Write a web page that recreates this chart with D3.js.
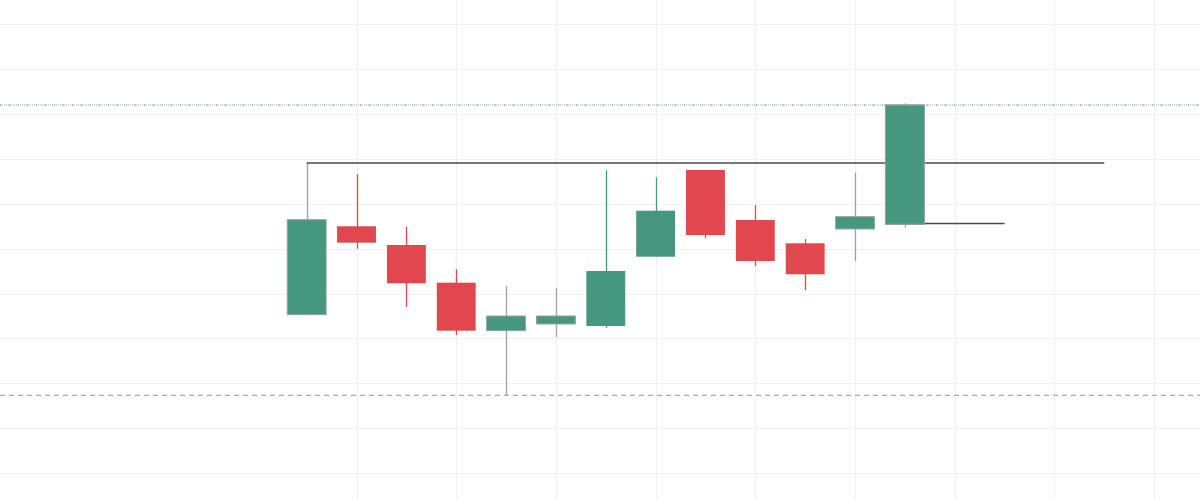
<!DOCTYPE html>
<html>
<head>
<meta charset="utf-8">
<script src="https://cdn.jsdelivr.net/npm/d3@7/dist/d3.min.js"></script>
<style>
html,body{margin:0;padding:0;background:#fff;overflow:hidden;}
svg{display:block;}
</style>
</head>
<body>
<svg id="chart" width="1200" height="499"></svg>
<script>
// ---- data ----
const bars = [0,1,2,3,4,5,6,7,8,9,10,11,12];
const opens  = [115.30,134.99,130.82,122.43,111.74,113.23,112.78,128.22,147.53,136.39,131.20,134.39,135.45];
const highs  = [149.09,146.57,134.90,125.41,121.69,121.25,147.46,145.90,147.53,139.73,132.16,146.93,162.38];
const lows   = [115.20,130.00,117.02,110.78,97.35,110.33,112.33,128.20,132.32,126.15,120.73,127.26,134.68];
const closes = [136.46,131.34,122.29,111.74,115.01,115.01,125.03,138.46,133.05,127.26,124.30,137.13,162.00];
const marked = [1,0,0,0,1,1,0,0,0,0,0,1,1];
const priceTicks = [80,90,100,110,120,130,140,150,160,170,180];
const timeTicks = [1,3,5,7,9,11,13,15,17];
const resistance = {price:149.09, from:0, to:16};
const support = {price:135.6, from:12, to:14};
const lastPrice = 162.00;
const lowPrice = 97.35;

// ---- scales ----
const W = 1200, H = 499;
const x = d3.scaleLinear().domain([-6.152, 17.92]).range([0, W]);
const y = d3.scaleLinear().domain([74.25, 185.39]).range([H, 0]);
const step = x(1) - x(0);
const bw = step * 0.78;

const svg = d3.select('#chart');
const GREEN = '#45977f', RED = '#e0484e', GREY = '#a0a0a0';

// grid
svg.append('g').selectAll('line').data(priceTicks).join('line')
  .attr('x1', 0).attr('x2', W)
  .attr('y1', d => Math.round(y(d)) + 0.5).attr('y2', d => Math.round(y(d)) + 0.5)
  .attr('stroke', '#f0f0f0').attr('stroke-width', 1);
svg.append('g').selectAll('line').data(timeTicks).join('line')
  .attr('y1', 0).attr('y2', H)
  .attr('x1', d => Math.round(x(d)) + 0.5).attr('x2', d => Math.round(x(d)) + 0.5)
  .attr('stroke', '#f0f0f0').attr('stroke-width', 1);

// low price dashed line
svg.append('line')
  .attr('x1', 0).attr('x2', W)
  .attr('y1', y(lowPrice)).attr('y2', y(lowPrice))
  .attr('stroke', '#aaaaaa').attr('stroke-width', 1.2)
  .attr('stroke-dasharray', '5,4');

// last price dotted line
svg.append('line')
  .attr('x1', 0).attr('x2', W)
  .attr('y1', y(lastPrice)).attr('y2', y(lastPrice))
  .attr('stroke', '#a8a8a8').attr('stroke-width', 1)
  .attr('stroke-dasharray', '1,1');
svg.append('line')
  .attr('x1', 0).attr('x2', W)
  .attr('y1', y(lastPrice)).attr('y2', y(lastPrice))
  .attr('stroke', GREEN).attr('stroke-width', 1)
  .attr('stroke-dasharray', '1,8');

// candles
const up = i => closes[i] >= opens[i];
const g = svg.append('g');
const cg = g.selectAll('g').data(bars).join('g');
cg.append('line')
  .attr('x1', i => Math.round(x(i)) + 0.5).attr('x2', i => Math.round(x(i)) + 0.5)
  .attr('y1', i => y(highs[i])).attr('y2', i => y(lows[i]))
  .attr('stroke', i => marked[i] ? GREY : (up(i) ? GREEN : RED))
  .attr('stroke-width', 1.3);
cg.append('rect')
  .attr('x', i => x(i) - bw / 2)
  .attr('width', bw)
  .attr('y', i => y(Math.max(opens[i], closes[i])))
  .attr('height', i => Math.max(1, Math.abs(y(opens[i]) - y(closes[i]))))
  .attr('fill', i => up(i) ? GREEN : RED)
  .attr('stroke', i => marked[i] ? GREY : 'none')
  .attr('stroke-width', 1);

// horizontal drawn lines
[resistance, support].forEach(l => {
  svg.append('line')
    .attr('x1', x(l.from)).attr('x2', x(l.to))
    .attr('y1', y(l.price)).attr('y2', y(l.price))
    .attr('stroke', '#4a4a4a').attr('stroke-width', 1.6);
});
// redraw last candle body over the support line start
svg.append('rect')
  .attr('x', x(12) - bw / 2).attr('width', bw)
  .attr('y', y(closes[12])).attr('height', y(opens[12]) - y(closes[12]))
  .attr('fill', GREEN).attr('stroke', GREY).attr('stroke-width', 1);
</script>
</body>
</html>
